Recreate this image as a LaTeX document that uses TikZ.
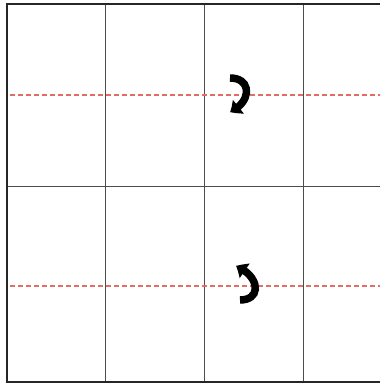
\documentclass[tikz,border=0pt]{standalone}
\usetikzlibrary{arrows.meta,bending}
\definecolor{dashred}{RGB}{225,110,100}
\begin{document}
\begin{tikzpicture}[x=1pt,y=1pt,
  gridline/.style={draw=black!70,line width=1pt},
  frameline/.style={draw=black!85,line width=1.6pt},
  redline/.style={draw=dashred,line width=1.2pt,dash pattern=on 5pt off 3pt},
  turn/.style={line width=7.5pt,-{Triangle[length=10pt,width=17pt,bend]}}]
\useasboundingbox (0,0) rectangle (380,383);
\fill[white] (0,0) rectangle (380,383);
% grid (screen y -> 383 - y)
\coordinate (tl) at (7,379);
\coordinate (bl) at (7,1);
\coordinate (tr) at (381,379);
\coordinate (br) at (381,1);
\draw[gridline] (105,379) -- (105,1);
\draw[gridline] (204,379) -- (204,1);
\draw[gridline] (303,379) -- (303,1);
\draw[gridline] (7,196) -- (381,196);
\draw[redline] (10,288) -- (380,288);
\draw[redline] (10,97) -- (380,97);
\draw[frameline] (tr) -- (tl) -- (bl) -- (br);
% turning arrows
\coordinate (a1s) at (230,305);
\coordinate (a1e) at (230,271);
\coordinate (a2s) at (240,83);
\coordinate (a2e) at (236,117);
\draw[turn] (a1s) .. controls (252,305) and (252,281) .. (a1e);
\draw[turn] (a2s) .. controls (262,83) and (260,107) .. (a2e);
\end{tikzpicture}
\end{document}
